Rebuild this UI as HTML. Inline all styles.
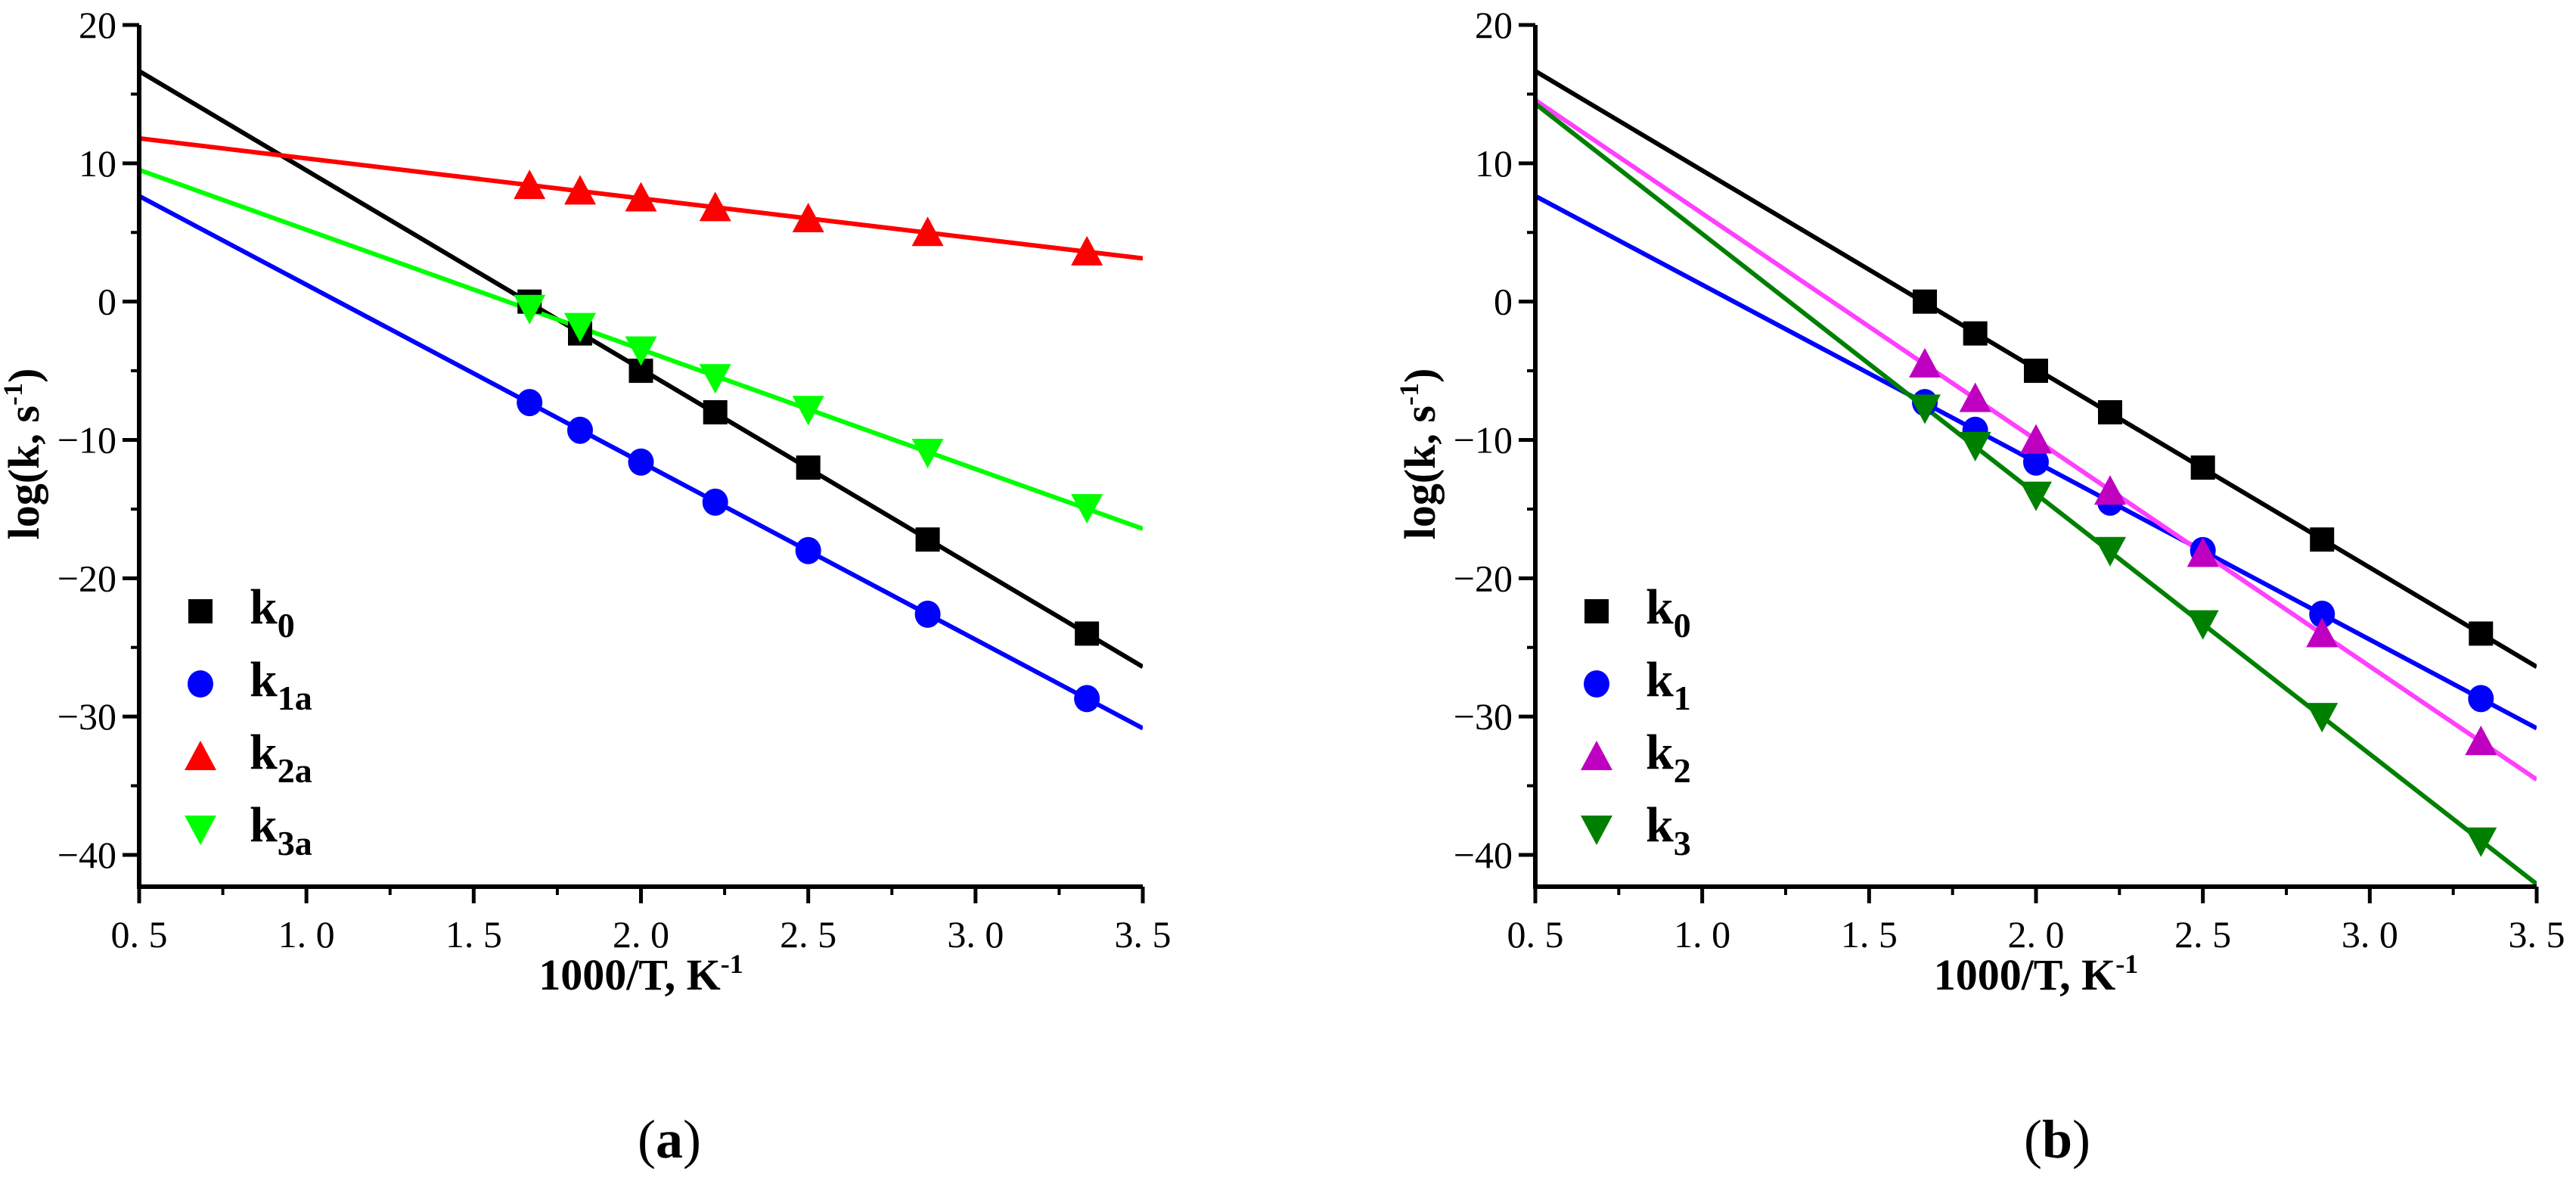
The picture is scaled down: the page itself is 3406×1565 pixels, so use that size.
<!DOCTYPE html>
<html><head><meta charset="utf-8">
<style>
html,body{margin:0;padding:0;background:#fff;}
svg{display:block;}
.tick{font-family:"Liberation Serif",serif;font-size:50px;fill:#000;}
.title{font-family:"Liberation Serif",serif;font-size:58px;font-weight:bold;fill:#000;}
.leg{font-family:"Liberation Serif",serif;font-size:66px;font-weight:bold;fill:#000;}
.cap{font-family:"Liberation Serif",serif;font-size:72px;fill:#000;}
</style></head>
<body>
<svg id="fig" width="3406" height="1565" viewBox="0 0 3406 1565" xmlns="http://www.w3.org/2000/svg"></svg>
<script>
const xVals = [1.667, 1.818, 2.0, 2.222, 2.5, 2.857, 3.333];
const k0 = [0, -2.3, -5, -8, -12, -17.2, -24];
const k1a = [-7.3, -9.3, -11.6, -14.5, -18, -22.6, -28.7];
const k2a = [8.4, 8.0, 7.5, 6.8, 6.0, 5.0, 3.6];
const k3a = [-0.5, -1.8, -3.5, -5.5, -7.8, -10.9, -14.9];
const k1 = [-7.3, -9.3, -11.6, -14.5, -18, -22.6, -28.7];
const k2 = [-4.5, -7, -10, -13.7, -18.2, -24, -31.8];
const k3 = [-7.7, -10.4, -14, -18, -23.3, -30, -39];
const xTicks = [0.5, 1.0, 1.5, 2.0, 2.5, 3.0, 3.5];
const xTickLabels = ["0. 5", "1. 0", "1. 5", "2. 0", "2. 5", "3. 0", "3. 5"];
const yTicks = [20, 10, 0, -10, -20, -30, -40];
const yTickLabels = ["20", "10", "0", "\u221210", "\u221220", "\u221230", "\u221240"];

const NS = "http://www.w3.org/2000/svg";
const svg = document.getElementById("fig");
function mk(tag, attrs, parent){
  const e = document.createElementNS(NS, tag);
  for (const k in attrs) e.setAttribute(k, attrs[k]);
  (parent||svg).appendChild(e);
  return e;
}
function fit(xs, ys){
  const n = xs.length; let sx=0,sy=0,sxx=0,sxy=0;
  for(let i=0;i<n;i++){sx+=xs[i];sy+=ys[i];sxx+=xs[i]*xs[i];sxy+=xs[i]*ys[i];}
  const b=(n*sxy-sx*sy)/(n*sxx-sx*sx); const a=(sy-b*sx)/n; return [a,b];
}
function marker(g, shape, cx, cy, color){
  let m;
  if(shape==="square"){ m = mk("rect",{x:cx-16,y:cy-16,width:32,height:32,fill:color},g); }
  else if(shape==="circle"){ m = mk("ellipse",{cx:cx,cy:cy,rx:17,ry:18,fill:color},g); }
  else if(shape==="up"){ m = mk("polygon",{points:`${cx},${cy-21} ${cx+21},${cy+18} ${cx-21},${cy+18}`,fill:color},g); }
  else { m = mk("polygon",{points:`${cx},${cy+21} ${cx+21},${cy-18} ${cx-21},${cy-18}`,fill:color},g); }
  return m;
}

function panel(id, x0, x1, series, capText, capX){
  const yTop=33, yBot=1130, axisY=1172;
  const X = v => x0 + (v-0.5)/3*(x1-x0);
  const Y = v => yTop + (20-v)/60*(yBot-yTop);
  const g = mk("g",{});
  
  
  const cp = mk("clipPath",{id:"clip"+id},g);
  mk("rect",{x:x0,y:yTop-5,width:x1-x0,height:axisY-yTop+5},cp);
  const lg = mk("g",{"clip-path":`url(#clip${id})`},g);
  series.forEach(s=>{
    const [a,b]=fit(xVals,s.data);
    const ln = mk("line",{x1:X(0.5),y1:Y(a+b*0.5),x2:X(3.5),y2:Y(a+b*3.5),stroke:s.line,"stroke-width":6},lg);
    
    
  });
  series.forEach(s=>{
    s.data.forEach((v,i)=>{
      const m = marker(lg, s.shape, X(xVals[i]), Y(v), s.color);
      
      
    });
  });
  const ax = mk("path",{d:`M${x0},${yTop} V${axisY} H${x1}`,stroke:"#000","stroke-width":6,fill:"none"},g);
  
  
  yTicks.forEach((v,i)=>{
    mk("line",{x1:x0-22,y1:Y(v),x2:x0,y2:Y(v),stroke:"#000","stroke-width":5},g);
    const t = mk("text",{x:x0-30,y:Y(v)+17,"text-anchor":"end",class:"tick"},g);
    t.textContent = yTickLabels[i];
    
    
    if(v>-40) mk("line",{x1:x0-11,y1:Y(v-5),x2:x0,y2:Y(v-5),stroke:"#000","stroke-width":4},g);
  });
  xTicks.forEach((v,i)=>{
    mk("line",{x1:X(v),y1:axisY,x2:X(v),y2:axisY+22,stroke:"#000","stroke-width":5},g);
    const t = mk("text",{x:X(v),y:axisY+80,"text-anchor":"middle",class:"tick"},g);
    t.textContent = xTickLabels[i];
    
    
    if(v<3.5) mk("line",{x1:X(v+0.25),y1:axisY,x2:X(v+0.25),y2:axisY+11,stroke:"#000","stroke-width":4},g);
  });
  const xt = mk("text",{x:(x0+x1)/2,y:1308,"text-anchor":"middle",class:"title"},g);
  xt.innerHTML = '1000/T, K<tspan dy="-22" font-size="36">-1</tspan>';
  
  
  const ytx = x0-133;
  const yt = mk("text",{x:ytx,y:600,"text-anchor":"middle",class:"title",transform:`rotate(-90 ${ytx} 600)`},g);
  yt.innerHTML = 'log(k, s<tspan dy="-22" font-size="36">-1</tspan><tspan dy="22">)</tspan>';
  
  
  series.forEach((s,i)=>{
    const ly = 808 + i*96;
    const lm = marker(g, s.shape, x0+81, ly, s.color);
    
    
    const t = mk("text",{x:x0+146,y:ly+16,class:"leg"},g);
    t.innerHTML = 'k<tspan dy="18" font-size="46">'+s.sub+'</tspan>';
    
    
  });
  const c = mk("text",{x:capX,y:1530,"text-anchor":"middle",class:"cap"},g);
  c.innerHTML = '(<tspan font-weight="bold">'+capText+'</tspan>)';
  
  
}

panel("a", 184, 1511, [
  {name:"k0", sub:"0", data:k0, shape:"square", color:"#000", line:"#000"},
  {name:"k1a", sub:"1a", data:k1a, shape:"circle", color:"#0000ff", line:"#0000ff"},
  {name:"k2a", sub:"2a", data:k2a, shape:"up", color:"#ff0000", line:"#ff0000"},
  {name:"k3a", sub:"3a", data:k3a, shape:"down", color:"#00ff00", line:"#00ff00"}
], "a", 885);
panel("b", 2030, 3354, [
  {name:"k0", sub:"0", data:k0, shape:"square", color:"#000", line:"#000"},
  {name:"k1", sub:"1", data:k1, shape:"circle", color:"#0000ff", line:"#0000ff"},
  {name:"k2", sub:"2", data:k2, shape:"up", color:"#c000c0", line:"#ff40ff"},
  {name:"k3", sub:"3", data:k3, shape:"down", color:"#008000", line:"#008000"}
], "b", 2720);
</script>
</body></html>
